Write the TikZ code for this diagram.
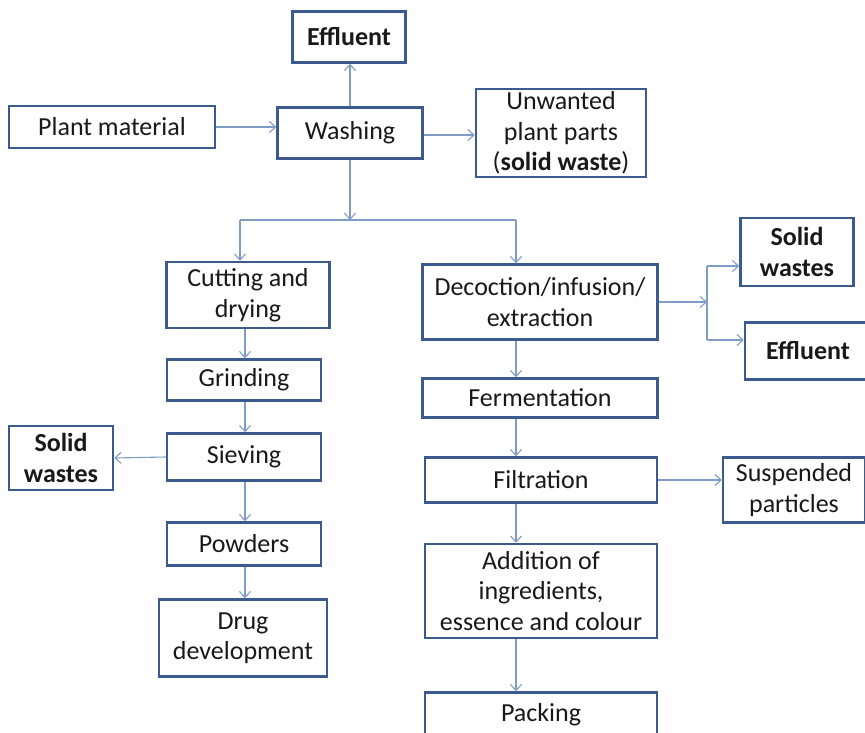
\documentclass[tikz,border=0pt]{standalone}
\usepackage{fontspec}
\setmainfont{Carlito}
\usetikzlibrary{arrows.meta}
\definecolor{boxblue}{HTML}{3B5B8E}
\definecolor{linkblue}{HTML}{7E9CC6}
\tikzset{
  box/.style={draw=boxblue, line width=2.5pt, fill=white, align=center,
    inner sep=0pt, text=black!90, font=\fontsize{26}{30.5}\selectfont},
  flow/.style={draw=linkblue, line width=1.1pt,
    -{Straight Barb[length=6pt,width=11pt]}},
  link/.style={draw=linkblue, line width=1.1pt}
}
\begin{document}
\begin{tikzpicture}[x=1pt,y=-1pt]
\useasboundingbox (0,0) rectangle (865,733);
\clip (0,0) rectangle (865,733);
% top row
\node [box, minimum width=113, minimum height=51] (eff1) at (349,37) {\textbf{Effluent}};
\node [box, minimum width=206, minimum height=42] (plant) at (112,127) {Plant material};
\node [box, minimum width=145, minimum height=51] (wash) at (350,133) {Washing};
\node [box, minimum width=170, minimum height=88] (unw) at (561,133) {Unwanted\\plant parts\\(\textbf{solid waste})};
% left column
\node [box, minimum width=163, minimum height=66] (cut) at (248,295) {Cutting and\\drying};
\node [box, minimum width=154, minimum height=41] (grind) at (244,380) {Grinding};
\node [box, minimum width=154, minimum height=47] (sieve) at (244,457) {Sieving};
\node [box, minimum width=104, minimum height=64] (sw2) at (61,458) {\textbf{Solid}\\\textbf{wastes}};
\node [box, minimum width=154, minimum height=43] (powd) at (244,544) {Powders};
\node [box, minimum width=168, minimum height=77] (drug) at (243,638) {Drug\\development};
% right column
\node [box, minimum width=235, minimum height=75] (dec) at (540,302) {Decoction/infusion/\\extraction};
\node [box, minimum width=113, minimum height=68] (sw1) at (797,252) {\textbf{Solid}\\\textbf{wastes}};
\node [box, minimum width=126, minimum height=57] (eff2) at (808,351) {\textbf{Effluent}};
\node [box, minimum width=235, minimum height=39] (ferm) at (540,398) {Fermentation};
\node [box, minimum width=232, minimum height=45] (filt) at (541,480) {Filtration};
\node [box, minimum width=142, minimum height=65] (susp) at (794,490) {Suspended\\particles};
\node [box, minimum width=232, minimum height=94] (add) at (541,591) {Addition of\\ingredients,\\essence and colour};
\node [box, minimum width=232, minimum height=45] (pack) at (541,715) {Packing};
% junctions
\coordinate (split) at (350,220);
\coordinate (splitL) at (240,220);
\coordinate (splitR) at (516,220);
\coordinate (colL) at (245,0);
\coordinate (colR) at (516,0);
\coordinate (fork) at (707,302);
\coordinate (forkT) at (707,266);
\coordinate (forkB) at (707,340);
% connectors
\draw [flow] (plant.east) -- (plant.east -| wash.west);
\draw [flow] (wash.north) -- (wash.north |- eff1.south);
\draw [flow] (wash.east |- 0,135) -- (unw.west |- 0,135);
\draw [flow] (wash.south) -- (split);
\draw [link] (splitL) -- (splitR);
\draw [flow] (splitL) -- (splitL |- cut.north);
\draw [flow] (splitR) -- (splitR |- dec.north);
\draw [flow] (colL |- cut.south) -- (colL |- grind.north);
\draw [flow] (colL |- grind.south) -- (colL |- sieve.north);
\draw [flow] (colL |- sieve.south) -- (colL |- powd.north);
\draw [flow] (colL |- powd.south) -- (colL |- drug.north);
\draw [flow] (sieve.west) -- (sw2.east);
\draw [flow] (dec.east) -- (fork);
\draw [link] (forkT) -- (forkB);
\draw [flow] (forkT) -- (forkT -| sw1.west);
\draw [flow] (forkB) -- (forkB -| eff2.west);
\draw [flow] (colR |- dec.south) -- (colR |- ferm.north);
\draw [flow] (colR |- ferm.south) -- (colR |- filt.north);
\draw [flow] (colR |- filt.south) -- (colR |- add.north);
\draw [flow] (colR |- add.south) -- (colR |- pack.north);
\draw [flow] (filt.east) -- (susp.west |- filt.east);
\end{tikzpicture}
\end{document}
